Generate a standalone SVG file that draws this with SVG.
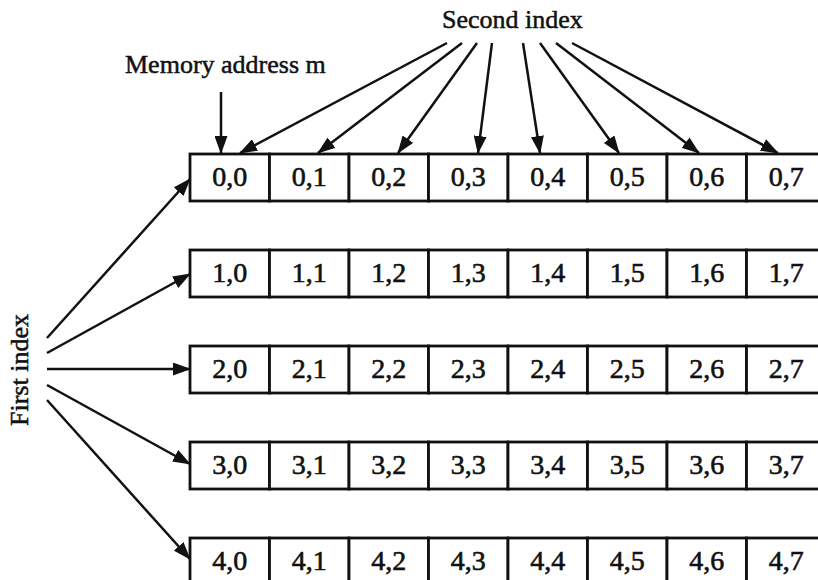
<svg xmlns="http://www.w3.org/2000/svg" width="818" height="580" viewBox="0 0 818 580">
  <style>
    .lbl { font-family: "Liberation Serif", "Times New Roman", serif; font-size: 26px; fill: #111; stroke: #111; stroke-width: 0.5; }
    .cell rect { fill: #fff; stroke: #111; stroke-width: 2.8; }
    .cell text { font-family: "Liberation Serif", "Times New Roman", serif; font-size: 28px; fill: #111; stroke: #111; stroke-width: 0.6; text-anchor: middle; }
    .conn { stroke: #111; stroke-width: 2.5; fill: none; marker-end: url(#head); }
  </style>
  <defs>
    <marker id="head" markerUnits="userSpaceOnUse" markerWidth="18" markerHeight="13" refX="17" refY="6.5" orient="auto">
      <path d="M0,0 L18,6.5 L0,13 Z" fill="#111"/>
    </marker>
  </defs>
  <rect width="818" height="580" fill="#fff"/>

  <!-- labels -->
  <text class="lbl" x="125" y="73">Memory address m</text>
  <text class="lbl" x="442" y="28">Second index</text>
  <text class="lbl" x="28" y="370" text-anchor="middle" transform="rotate(-90 28 370)">First index</text>

  <!-- connectors -->
  <g id="connectors">
    <line class="conn" x1="221" y1="92" x2="221" y2="153"/>
    <line class="conn" x1="447" y1="43" x2="240" y2="153"/>
    <line class="conn" x1="462" y1="43" x2="318" y2="153"/>
    <line class="conn" x1="477" y1="43" x2="398" y2="153"/>
    <line class="conn" x1="492" y1="43" x2="478" y2="153"/>
    <line class="conn" x1="523" y1="43" x2="540" y2="153"/>
    <line class="conn" x1="540" y1="43" x2="619" y2="153"/>
    <line class="conn" x1="556" y1="43" x2="699" y2="153"/>
    <line class="conn" x1="572" y1="43" x2="778" y2="153"/>
    <line class="conn" x1="47" y1="338" x2="190" y2="179"/>
    <line class="conn" x1="47" y1="353" x2="190" y2="274"/>
    <line class="conn" x1="47" y1="369" x2="190" y2="369"/>
    <line class="conn" x1="47" y1="385" x2="190" y2="464"/>
    <line class="conn" x1="47" y1="400" x2="190" y2="559"/>
  </g>

  <!-- row 0 -->
  <g id="c00" class="cell"><rect x="190" y="154" width="79.5" height="47"/><text x="229.75" y="186">0,0</text></g>
  <g id="c01" class="cell"><rect x="269.5" y="154" width="79.5" height="47"/><text x="309.25" y="186">0,1</text></g>
  <g id="c02" class="cell"><rect x="349" y="154" width="79.5" height="47"/><text x="388.75" y="186">0,2</text></g>
  <g id="c03" class="cell"><rect x="428.5" y="154" width="79.5" height="47"/><text x="468.25" y="186">0,3</text></g>
  <g id="c04" class="cell"><rect x="508" y="154" width="79.5" height="47"/><text x="547.75" y="186">0,4</text></g>
  <g id="c05" class="cell"><rect x="587.5" y="154" width="79.5" height="47"/><text x="627.25" y="186">0,5</text></g>
  <g id="c06" class="cell"><rect x="667" y="154" width="79.5" height="47"/><text x="706.75" y="186">0,6</text></g>
  <g id="c07" class="cell"><rect x="746.5" y="154" width="79.5" height="47"/><text x="786.25" y="186">0,7</text></g>

  <!-- row 1 -->
  <g id="c10" class="cell"><rect x="190" y="250" width="79.5" height="47"/><text x="229.75" y="282">1,0</text></g>
  <g id="c11" class="cell"><rect x="269.5" y="250" width="79.5" height="47"/><text x="309.25" y="282">1,1</text></g>
  <g id="c12" class="cell"><rect x="349" y="250" width="79.5" height="47"/><text x="388.75" y="282">1,2</text></g>
  <g id="c13" class="cell"><rect x="428.5" y="250" width="79.5" height="47"/><text x="468.25" y="282">1,3</text></g>
  <g id="c14" class="cell"><rect x="508" y="250" width="79.5" height="47"/><text x="547.75" y="282">1,4</text></g>
  <g id="c15" class="cell"><rect x="587.5" y="250" width="79.5" height="47"/><text x="627.25" y="282">1,5</text></g>
  <g id="c16" class="cell"><rect x="667" y="250" width="79.5" height="47"/><text x="706.75" y="282">1,6</text></g>
  <g id="c17" class="cell"><rect x="746.5" y="250" width="79.5" height="47"/><text x="786.25" y="282">1,7</text></g>

  <!-- row 2 -->
  <g id="c20" class="cell"><rect x="190" y="346" width="79.5" height="47"/><text x="229.75" y="378">2,0</text></g>
  <g id="c21" class="cell"><rect x="269.5" y="346" width="79.5" height="47"/><text x="309.25" y="378">2,1</text></g>
  <g id="c22" class="cell"><rect x="349" y="346" width="79.5" height="47"/><text x="388.75" y="378">2,2</text></g>
  <g id="c23" class="cell"><rect x="428.5" y="346" width="79.5" height="47"/><text x="468.25" y="378">2,3</text></g>
  <g id="c24" class="cell"><rect x="508" y="346" width="79.5" height="47"/><text x="547.75" y="378">2,4</text></g>
  <g id="c25" class="cell"><rect x="587.5" y="346" width="79.5" height="47"/><text x="627.25" y="378">2,5</text></g>
  <g id="c26" class="cell"><rect x="667" y="346" width="79.5" height="47"/><text x="706.75" y="378">2,6</text></g>
  <g id="c27" class="cell"><rect x="746.5" y="346" width="79.5" height="47"/><text x="786.25" y="378">2,7</text></g>

  <!-- row 3 -->
  <g id="c30" class="cell"><rect x="190" y="442" width="79.5" height="47"/><text x="229.75" y="474">3,0</text></g>
  <g id="c31" class="cell"><rect x="269.5" y="442" width="79.5" height="47"/><text x="309.25" y="474">3,1</text></g>
  <g id="c32" class="cell"><rect x="349" y="442" width="79.5" height="47"/><text x="388.75" y="474">3,2</text></g>
  <g id="c33" class="cell"><rect x="428.5" y="442" width="79.5" height="47"/><text x="468.25" y="474">3,3</text></g>
  <g id="c34" class="cell"><rect x="508" y="442" width="79.5" height="47"/><text x="547.75" y="474">3,4</text></g>
  <g id="c35" class="cell"><rect x="587.5" y="442" width="79.5" height="47"/><text x="627.25" y="474">3,5</text></g>
  <g id="c36" class="cell"><rect x="667" y="442" width="79.5" height="47"/><text x="706.75" y="474">3,6</text></g>
  <g id="c37" class="cell"><rect x="746.5" y="442" width="79.5" height="47"/><text x="786.25" y="474">3,7</text></g>

  <!-- row 4 -->
  <g id="c40" class="cell"><rect x="190" y="538" width="79.5" height="47"/><text x="229.75" y="570">4,0</text></g>
  <g id="c41" class="cell"><rect x="269.5" y="538" width="79.5" height="47"/><text x="309.25" y="570">4,1</text></g>
  <g id="c42" class="cell"><rect x="349" y="538" width="79.5" height="47"/><text x="388.75" y="570">4,2</text></g>
  <g id="c43" class="cell"><rect x="428.5" y="538" width="79.5" height="47"/><text x="468.25" y="570">4,3</text></g>
  <g id="c44" class="cell"><rect x="508" y="538" width="79.5" height="47"/><text x="547.75" y="570">4,4</text></g>
  <g id="c45" class="cell"><rect x="587.5" y="538" width="79.5" height="47"/><text x="627.25" y="570">4,5</text></g>
  <g id="c46" class="cell"><rect x="667" y="538" width="79.5" height="47"/><text x="706.75" y="570">4,6</text></g>
  <g id="c47" class="cell"><rect x="746.5" y="538" width="79.5" height="47"/><text x="786.25" y="570">4,7</text></g>
</svg>
